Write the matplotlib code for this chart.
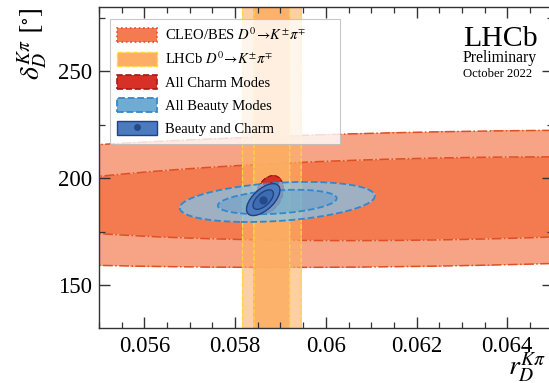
import numpy as np
import matplotlib
matplotlib.use("Agg")
import matplotlib.pyplot as plt
from matplotlib.patches import Patch
from matplotlib.lines import Line2D
from matplotlib.ticker import MultipleLocator

plt.rcParams['font.family'] = ['Liberation Serif', 'DejaVu Serif']
plt.rcParams['mathtext.fontset'] = 'stix'

cleo_center = (0.06273, 190.4)
cleo_sigma = (0.00712, 12.9)
cleo_rho = 0.208

lhcb_r = 0.05881
lhcb_sigma_r = 0.00026

charm_center = (0.05875, 192.5)
charm_sigma = (0.000125, 3.5)
charm_rho = 0.3

beauty_center = (0.05893, 188.9)
beauty_sigma = (0.000864, 3.76)
beauty_rho = 0.3

combo_center = (0.05862, 190.0)
combo_sigma = (0.000148, 3.0)
combo_rho = 0.6

# 68% and 95% 2D confidence levels
levels = [0.0, 2.30, 6.18]

legend_labels = [r'CLEO/BES $D^0\!\rightarrow\! K^{\pm}\pi^{\mp}$',
                 r'LHCb $D^0\!\rightarrow\! K^{\pm}\pi^{\mp}$',
                 'All Charm Modes', 'All Beauty Modes', 'Beauty and Charm']


def chi2(X, Y, center, sigma, rho):
    dx = (X - center[0]) / sigma[0]
    dy = (Y - center[1]) / sigma[1]
    return (dx**2 - 2 * rho * dx * dy + dy**2) / (1 - rho**2)


def local_grid(center, sigma, n=400):
    x = np.linspace(center[0] - 4 * sigma[0], center[0] + 4 * sigma[0], n)
    y = np.linspace(center[1] - 4 * sigma[1], center[1] + 4 * sigma[1], n)
    return np.meshgrid(x, y)


fig = plt.figure(figsize=(5.49, 3.83), dpi=100)
ax = fig.add_axes([0.1803, 0.1436, 0.8264, 0.8381])

# big grid for the bands
gx = np.linspace(0.053, 0.067, 700)
gy = np.linspace(115, 295, 700)
GX, GY = np.meshgrid(gx, gy)

# CLEO/BES
cleo_in = (244/255, 122/255, 80/255)
cleo_out = (247/255, 163/255, 133/255)
cleo_edge = (222/255, 80/255, 35/255)
Z = chi2(GX, GY, cleo_center, cleo_sigma, cleo_rho)
ax.contourf(GX, GY, Z, levels=levels, colors=[cleo_in, cleo_out], zorder=1.0)
ax.contour(GX, GY, Z, levels=levels[1:], colors=[cleo_edge], linestyles=['-.'],
           linewidths=1.1, zorder=1.05)

# LHCb D0 -> K pi band
lhcb_in = (253/255, 174/255, 100/255, 0.95)
lhcb_out = (253/255, 176/255, 106/255, 0.6)
lhcb_edge = (253/255, 215/255, 60/255)
Z = ((GX - lhcb_r) / lhcb_sigma_r)**2
ax.contourf(GX, GY, Z, levels=levels, colors=[lhcb_in, lhcb_out], zorder=1.2)
ax.contour(GX, GY, Z, levels=levels[1:], colors=[lhcb_edge], linestyles=['--'],
           linewidths=0.9, zorder=1.25)

# All charm modes
charm_fc = (215/255, 48/255, 39/255)
charm_edge = (165/255, 25/255, 20/255)
X, Y = local_grid(charm_center, charm_sigma)
Z = chi2(X, Y, charm_center, charm_sigma, charm_rho)
ax.contourf(X, Y, Z, levels=levels, colors=[charm_fc, charm_fc], zorder=1.4)
ax.contour(X, Y, Z, levels=levels[1:], colors=[charm_edge], linestyles=['--'],
           linewidths=1.0, zorder=1.45)

# All beauty modes
beauty_in = (100/255, 178/255, 228/255, 0.8)
beauty_out = (125/255, 200/255, 245/255, 0.7)
beauty_edge = (55/255, 135/255, 200/255)
X, Y = local_grid(beauty_center, beauty_sigma)
Z = chi2(X, Y, beauty_center, beauty_sigma, beauty_rho)
ax.contourf(X, Y, Z, levels=levels, colors=[beauty_in, beauty_out], zorder=1.6)
ax.contour(X, Y, Z, levels=levels[1:], colors=[beauty_edge], linestyles=['--'],
           linewidths=1.3, zorder=1.65)

# Beauty and charm
combo_in = (62/255, 108/255, 178/255)
combo_out = (75/255, 122/255, 190/255)
combo_edge = (35/255, 65/255, 130/255)
X, Y = local_grid(combo_center, combo_sigma)
Z = chi2(X, Y, combo_center, combo_sigma, combo_rho)
ax.contourf(X, Y, Z, levels=levels, colors=[combo_in, combo_out], zorder=1.8)
ax.contour(X, Y, Z, levels=levels[1:], colors=[combo_edge], linestyles=['-'],
           linewidths=1.0, zorder=1.85)
ax.plot([combo_center[0]], [combo_center[1]], 'o', ms=5, color=(35/255, 75/255, 140/255),
        zorder=1.9)

ax.set_xlim(0.055, 0.065)
ax.set_ylim(130, 280)
ax.xaxis.set_major_locator(MultipleLocator(0.002))
ax.xaxis.set_minor_locator(MultipleLocator(0.0005))
ax.yaxis.set_major_locator(MultipleLocator(50))
ax.yaxis.set_minor_locator(MultipleLocator(25))
ax.set_xticks([0.056, 0.058, 0.060, 0.062, 0.064])
ax.set_xticklabels(['0.056', '0.058', '0.06', '0.062', '0.064'])
ax.tick_params(which='both', direction='in', top=True, right=True, labelsize=16.5,
               color='#333333')
ax.tick_params(which='major', length=8, width=1.0)
ax.tick_params(which='minor', length=4, width=0.9)
ax.tick_params(axis='x', pad=6)
ax.tick_params(axis='y', pad=5)
for s in ax.spines.values():
    s.set_color('#333333')
    s.set_linewidth(1.0)

ax.set_xlabel(r'$r_D^{K\pi}$', fontsize=20, loc='right')
ax.xaxis.set_label_coords(0.985, -0.07)
ax.set_ylabel(r'$\delta_D^{K\pi}\ [^{\circ}]$', fontsize=20, loc='top')
ax.yaxis.set_label_coords(-0.108, 1.0)

ax.text(0.802, 0.8785, 'LHCb', transform=ax.transAxes, fontsize=21.5, va='baseline')
ax.text(0.802, 0.830, 'Preliminary', transform=ax.transAxes, fontsize=11.3, va='baseline')
ax.text(0.802, 0.783, 'October 2022', transform=ax.transAxes, fontsize=9.1, va='baseline')

handles = [
    Patch(facecolor=cleo_in, edgecolor=cleo_edge, linestyle=':', linewidth=1.2),
    Patch(facecolor=(253/255, 174/255, 100/255), edgecolor=lhcb_edge, linestyle='--', linewidth=1.0),
    Patch(facecolor=charm_fc, edgecolor=charm_edge, linestyle='--', linewidth=1.2),
    Patch(facecolor=(110/255, 172/255, 212/255), edgecolor=beauty_edge, linestyle='--', linewidth=1.3),
    (Patch(facecolor=combo_out, edgecolor=combo_edge, linewidth=1.0),
     Line2D([], [], marker='o', ms=4, ls='none', color=(35/255, 75/255, 140/255))),
]
leg = ax.legend(handles, legend_labels, loc='upper left', bbox_to_anchor=(0.024, 0, 0.507, 0.963),
                mode='expand', borderaxespad=0, fontsize=10.5, handlelength=2.75,
                handleheight=1.1, labelspacing=0.55, handletextpad=0.55, fancybox=False,
                framealpha=0.8, edgecolor='#bbbbbb', borderpad=0.5)
leg.get_frame().set_linewidth(0.8)

fig.savefig('out.png', dpi=100)
